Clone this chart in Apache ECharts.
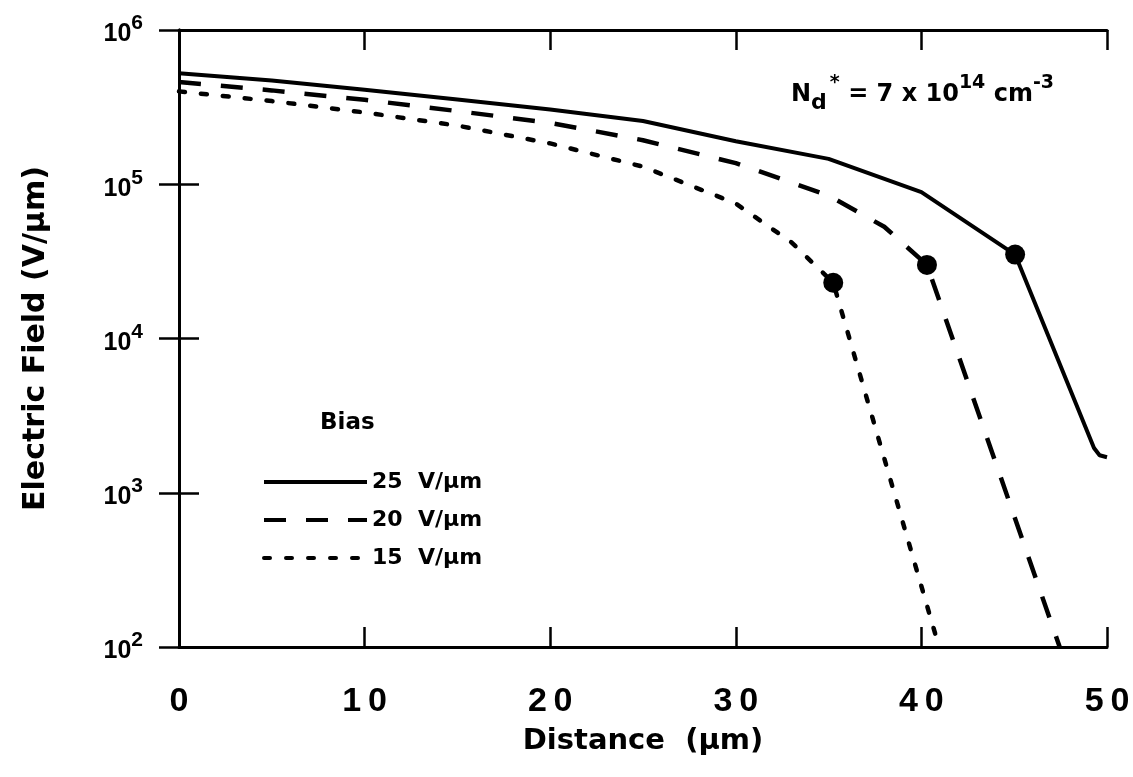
<!DOCTYPE html>
<html>
<head>
<meta charset="utf-8">
<script src="https://cdn.jsdelivr.net/npm/echarts@6/dist/echarts.min.js"></script>
<style>
html,body{margin:0;padding:0;background:#fff;}
#c{width:1133px;height:777px;}
</style>
</head>
<body>
<div id="c"></div>
<script>
// Data (distance in µm, field in V/µm)
const bias25 = [[0,5.25e5],[5,4.7e5],[10,4.1e5],[15,3.54e5],[20,3.05e5],[25,2.57e5],[30,1.9e5],[35,1.46e5],[40,8.9e4],[45.05,3.5e4],[49.3,1.95e3],[49.6,1.75e3],[50,1.7e3]];
const bias20 = [[0,4.6e5],[5,4.06e5],[10,3.53e5],[15,2.98e5],[20,2.5e5],[25,1.93e5],[30,1.37e5],[35,8.45e4],[38,5.3e4],[40.3,3.0e4],[47.45,100]];
const bias15 = [[0,4.0e5],[5,3.46e5],[10,2.92e5],[15,2.4e5],[20,1.84e5],[25,1.3e5],[30,7.5e4],[33,4.2e4],[35.25,2.3e4],[40.95,100]];
const endPoints = [[45.05,3.5e4],[40.3,3.0e4],[35.25,2.3e4]];
const seriesNames = ['25  V/µm','20  V/µm','15  V/µm'];
const xTicks = [0,10,20,30,40,50];
const yTicks = [1e2,1e3,1e4,1e5,1e6];

const FONT = '"Liberation Sans", Arial, sans-serif';
const WIDE = '"DejaVu Sans", sans-serif';
const chart = echarts.init(document.getElementById('c'), null, {renderer:'canvas'});
const axisLine = {show:true, lineStyle:{color:'#000', width:3}};
const tick = {show:true, inside:true, length:20, lineStyle:{color:'#000', width:2.5}};

chart.setOption({
  backgroundColor:'#fff',
  animation:false,
  grid:{left:179, right:26, top:30, bottom:130, containLabel:false},
  xAxis:[{
    type:'value', min:0, max:50, interval:10, position:'bottom',
    axisLine:axisLine, axisTick:tick, splitLine:{show:false},
    axisLabel:{margin:38, color:'#000', fontFamily:FONT, fontWeight:'bold', fontSize:34,
      formatter:v=>xTicks.indexOf(v)>=0 ? String(v).split('').join('\u2009') : ''},
    name:'Distance  (µm)', nameLocation:'middle', nameGap:80,
    nameTextStyle:{color:'#000', fontFamily:WIDE, fontSize:29, fontWeight:'bold'}
  },{
    type:'value', min:0, max:50, interval:10, position:'top',
    axisLine:axisLine, axisTick:tick, axisLabel:{show:false}, splitLine:{show:false}
  }],
  yAxis:[{
    type:'log', logBase:10, min:1e2, max:1e6, position:'left',
    axisLine:axisLine, axisTick:tick, splitLine:{show:false}, minorTick:{show:false},
    axisLabel:{margin:36, color:'#000', fontFamily:FONT,
      formatter:v=>{const e=Math.round(Math.log10(v)); return yTicks.indexOf(Math.pow(10,e))>=0 ? '{b|10}{s|'+e+'}' : '';},
      rich:{b:{fontSize:25, fontWeight:'bold', fontFamily:FONT, color:'#000', verticalAlign:'bottom'},
            s:{fontSize:21, fontWeight:'bold', fontFamily:FONT, color:'#000', verticalAlign:'bottom', padding:[0,0,13,0]}}},
    name:'Electric Field (V/µm)', nameLocation:'middle', nameGap:128, nameRotate:90,
    nameTextStyle:{color:'#000', fontFamily:WIDE, fontSize:30, fontWeight:'bold'}
  },{
    type:'log', logBase:10, min:1e2, max:1e6, position:'right',
    axisLine:axisLine, axisTick:tick, axisLabel:{show:false}, splitLine:{show:false}
  }],
  legend:{
    data:seriesNames, orient:'vertical', left:257, top:466,
    itemWidth:103, itemHeight:20, itemGap:16,
    itemStyle:{opacity:0},
    lineStyle:{width:4},
    textStyle:{color:'#000', fontFamily:WIDE, fontSize:22, fontWeight:'bold'},
    selectedMode:false
  },
  graphic:[
    {type:'text', left:320, top:412, style:{text:'Bias', fontFamily:WIDE, fontSize:23, fontWeight:'bold', fill:'#000'}},
    {type:'text', left:791, top:74, style:{
      text:'{b|N}{sub|d}{sup|*}{b| = 7 x 10}{sup|14}{b| cm}{sup|-3}',
      rich:{
        b:{fontFamily:WIDE, fontSize:24, fontWeight:'bold', color:'#000', verticalAlign:'bottom', padding:[0,0,7,0]},
        sub:{fontFamily:WIDE, fontSize:22, fontWeight:'bold', color:'#000', verticalAlign:'bottom', padding:[0,3,0,0]},
        sup:{fontFamily:WIDE, fontSize:19, fontWeight:'bold', color:'#000', verticalAlign:'bottom', padding:[0,0,21,0]}
      }}}
  ],
  series:[
    {name:seriesNames[0], type:'line', data:bias25, symbol:'none', smooth:false,
     lineStyle:{color:'#000', width:4, type:'solid'}, itemStyle:{color:'#000'}, z:3},
    {name:seriesNames[1], type:'line', data:bias20, symbol:'none', smooth:false,
     lineStyle:{color:'#000', width:4.5, type:[22,20], cap:'butt'}, itemStyle:{color:'#000'}, z:3},
    {name:seriesNames[2], type:'line', data:bias15, symbol:'none', smooth:false,
     lineStyle:{color:'#000', width:4.5, type:[6,16], cap:'round'}, itemStyle:{color:'#000'}, z:3},
    {name:'end', type:'scatter', data:endPoints, symbol:'circle', symbolSize:20,
     itemStyle:{color:'#000', opacity:1}, z:4}
  ]
});
</script>
</body>
</html>
